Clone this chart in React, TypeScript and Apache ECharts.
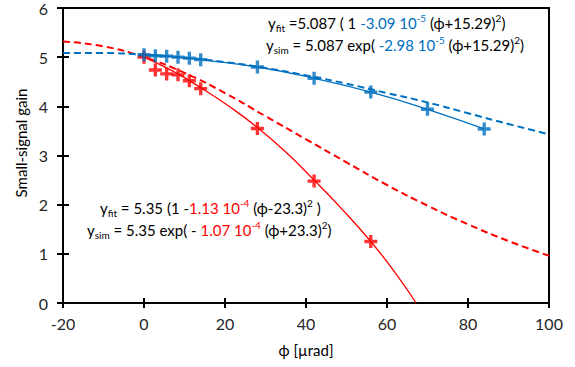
import React, { useEffect, useRef } from "react";
import * as echarts from "echarts";

// Measured points (crosses)
const phiMeas = [0, 2.8, 5.6, 8.4, 11.2, 14, 28, 42, 56, 70, 84];
const blueMeas = [5.05, 5.03, 5.02, 5.0, 4.98, 4.95, 4.8, 4.57, 4.29, 3.94, 3.54];
const phiRed = [0, 2.8, 5.6, 8.4, 11.2, 14, 28, 42, 56];
const redMeas = [5.0, 4.74, 4.66, 4.64, 4.52, 4.36, 3.55, 2.48, 1.25];

// Solid fit curves
const redFitPhi = [0, 7, 14, 21, 28, 35, 42, 49, 56, 62, 67.2];
const redFitVal = [5.0, 4.72, 4.38, 4.0, 3.57, 3.07, 2.5, 1.9, 1.25, 0.62, 0];

// Dashed simulation curves
const simPhi = [-20, -10, 0, 10, 20, 30, 40, 50, 60, 70, 80, 90, 100];
const blueSim = [5.085, 5.085, 5.05, 4.99, 4.9, 4.78, 4.63, 4.46, 4.27, 4.08, 3.86, 3.64, 3.43];
const redSim = [5.32, 5.22, 5.0, 4.68, 4.27, 3.8, 3.33, 2.86, 2.4, 1.98, 1.6, 1.26, 0.96];

const xTicks = { min: -20, max: 100, interval: 20 };
const yTicks = { min: 0, max: 6, interval: 1 };

const BLUE = "#0070C0";
const RED = "#FF0000";
const FONT = "Lato, 'Open Sans', sans-serif";
const CROSS = "path://M3.7,0H6.3V3.7H10V6.3H6.3V10H3.7V6.3H0V3.7H3.7Z";

const zip = (a: number[], b: number[]) => a.map((v, i) => [v, b[i]]);

const rich = {
  sub: { fontSize: 10, fontFamily: FONT, fill: "#000", color: "#000", padding: [9, 0, 0, 0] },
  sup: { fontSize: 10, fontFamily: FONT, fill: "#000", color: "#000", padding: [0, 0, 10, 0] },
  b: { fontSize: 15, fontFamily: FONT, fill: BLUE, color: BLUE },
  bsup: { fontSize: 10, fontFamily: FONT, fill: BLUE, color: BLUE, padding: [0, 0, 10, 0] },
  r: { fontSize: 15, fontFamily: FONT, fill: RED, color: RED },
  rsup: { fontSize: 10, fontFamily: FONT, fill: RED, color: RED, padding: [0, 0, 10, 0] },
};

function eqText(x: number, y: number, text: string, align: string) {
  return {
    type: "text",
    x,
    y,
    z: 100,
    style: {
      text,
      rich,
      fontSize: 15,
      fontFamily: FONT,
      fill: "#000",
      align,
      verticalAlign: "middle",
    },
  };
}

export default function App() {
  const ref = useRef<HTMLDivElement>(null);
  useEffect(() => {
    if (!ref.current) return;
    const chart = echarts.init(ref.current, null, { renderer: "svg" });
    const axisLabel = { fontSize: 16, fontFamily: FONT, color: "#262626" };
    chart.setOption({
      animation: false,
      grid: {
        left: 63,
        right: 26,
        top: 6,
        bottom: 64,
        show: true,
        borderColor: "#000",
        borderWidth: 2,
        backgroundColor: "transparent",
      },
      xAxis: [
        {
          type: "value",
          ...xTicks,
          position: "bottom",
          splitLine: { show: false },
          axisLine: { show: true, onZero: false, lineStyle: { color: "#000", width: 2 } },
          axisTick: { show: true, inside: false, length: 5, lineStyle: { color: "#000", width: 2 } },
          axisLabel: { ...axisLabel, margin: 12 },
        },
        {
          type: "value",
          ...xTicks,
          position: "bottom",
          splitLine: { show: false },
          axisLine: { show: false, onZero: false },
          axisTick: { show: true, inside: true, length: 5, lineStyle: { color: "#000", width: 2 } },
          axisLabel: { show: false },
        },
      ],
      yAxis: [
        {
          type: "value",
          ...yTicks,
          position: "left",
          splitLine: { show: false },
          axisLine: { show: true, onZero: false, lineStyle: { color: "#000", width: 2 } },
          axisTick: { show: true, inside: false, length: 6, lineStyle: { color: "#000", width: 2 } },
          axisLabel: { ...axisLabel, margin: 15 },
        },
        {
          type: "value",
          ...yTicks,
          position: "left",
          splitLine: { show: false },
          axisLine: { show: false, onZero: false },
          axisTick: { show: true, inside: true, length: 6, lineStyle: { color: "#000", width: 2 } },
          axisLabel: { show: false },
        },
      ],
      series: [
        {
          type: "line",
          data: zip(simPhi, redSim),
          smooth: true,
          symbol: "none",
          lineStyle: { color: RED, width: 2, type: [7, 4] },
          z: 2,
        },
        {
          type: "line",
          data: zip(simPhi, blueSim),
          smooth: true,
          symbol: "none",
          lineStyle: { color: BLUE, width: 2, type: [7, 4] },
          z: 2,
        },
        {
          type: "line",
          data: zip(redFitPhi, redFitVal),
          smooth: true,
          symbol: "none",
          lineStyle: { color: RED, width: 1.3 },
          z: 3,
        },
        {
          type: "line",
          data: zip(phiMeas, blueMeas),
          smooth: true,
          symbol: "none",
          lineStyle: { color: BLUE, width: 1.3 },
          z: 3,
        },
        {
          type: "scatter",
          data: zip(phiRed, redMeas),
          symbol: CROSS,
          symbolSize: 13,
          itemStyle: { color: RED },
          z: 4,
        },
        {
          type: "scatter",
          data: zip(phiMeas, blueMeas),
          symbol: CROSS,
          symbolSize: 13,
          itemStyle: { color: BLUE },
          z: 5,
        },
      ],
      graphic: [
        {
          type: "text",
          x: 21,
          y: 143,
          rotation: Math.PI / 2,
          style: {
            text: "Small-signal gain",
            fontSize: 15,
            fontFamily: FONT,
            fill: "#000",
            align: "center",
            verticalAlign: "middle",
          },
        },
        {
          type: "text",
          x: 306,
          y: 350,
          style: {
            text: "ϕ [µrad]",
            fontSize: 15,
            fontFamily: FONT,
            fill: "#000",
            align: "center",
            verticalAlign: "middle",
          },
        },
        eqText(268, 23, "y{sub|fit} =5.087 ( 1 {b|-3.09 10}{bsup|-5} (ϕ+15.29){sup|2})", "left"),
        eqText(266, 45, "y{sub|sim} = 5.087 exp( {b|-2.98 10}{bsup|-5} (ϕ+15.29){sup|2})", "left"),
        eqText(100, 208, "y{sub|fit} = 5.35 (1 -{r|1.13 10}{rsup|-4} (ϕ-23.3){sup|2} )", "left"),
        eqText(87, 230, "y{sub|sim} = 5.35 exp( - {r|1.07 10}{rsup|-4} (ϕ+23.3){sup|2})", "left"),
      ],
    });
    return () => chart.dispose();
  }, []);
  return (
    <div
      ref={ref}
      style={{ position: "absolute", left: 0, top: 0, width: 575, height: 367, background: "#fff" }}
    />
  );
}
